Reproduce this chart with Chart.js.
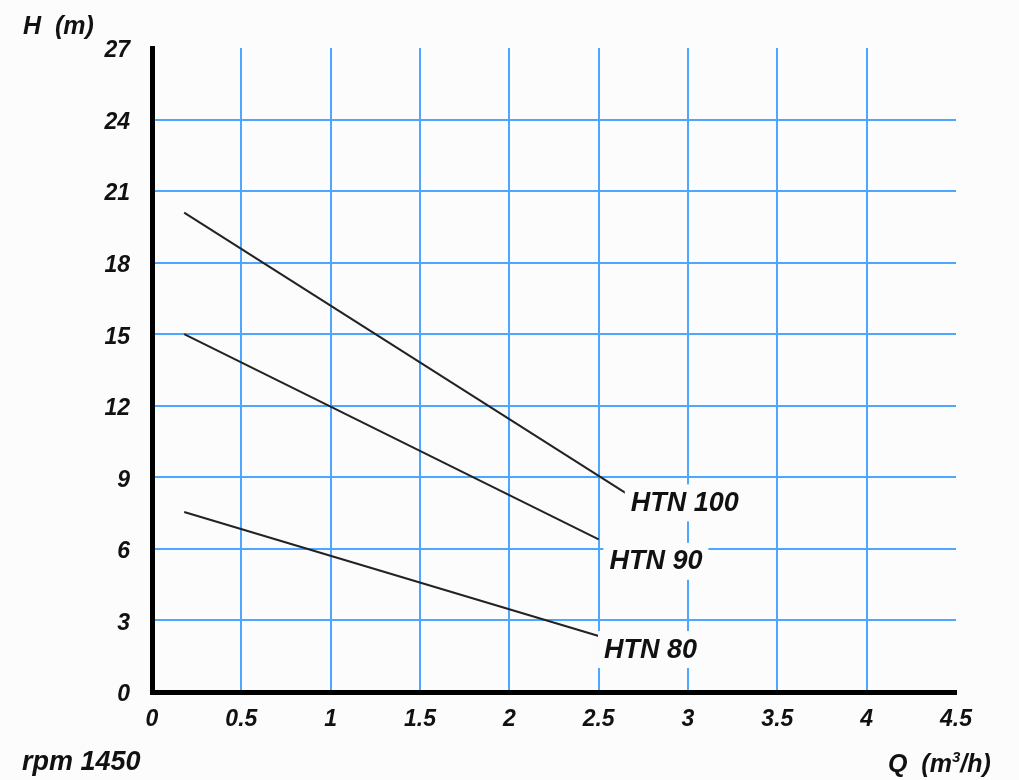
<!DOCTYPE html>
<html>
<head>
<meta charset="utf-8">
<script src="https://cdn.jsdelivr.net/npm/chart.js@4/dist/chart.umd.min.js"></script>
<style>
    html, body { margin: 0; padding: 0; background: #fcfcfc; }
    #wrap { position: relative; width: 1019px; height: 780px; }
    .lbl { position: absolute; font-family: "Liberation Sans", Arial, sans-serif; font-weight: bold; font-style: italic; color: #111; line-height: 1; white-space: nowrap; }
</style>
</head>
<body>
<div id="wrap">
    <canvas id="chart" width="1019" height="780"></canvas>
    <div class="lbl" style="left:23px; top:13px; font-size:25px;">H&nbsp;&nbsp;(m)</div>
    <div class="lbl" style="left:22px; top:748px; font-size:27px;">rpm 1450</div>
    <div class="lbl" style="left:888px; top:749px; font-size:25px;">Q&nbsp;&nbsp;(m<sup style="font-size:15px; vertical-align:10px;">3</sup>/h)</div>
</div>
<script>
// ─── Data ─────────────────────────────────────────────────────────────────────
const SERIES_NAMES = ["HTN 100", "HTN 90", "HTN 80"];
const Q_100 = [0.18, 2.65];
const H_100 = [20.1, 8.35];
const Q_90 = [0.18, 2.5];
const H_90 = [15.0, 6.4];
const Q_80 = [0.18, 2.5];
const H_80 = [7.55, 2.35];
// label anchors (left edge, vertical centre) in data units
const LABEL_Q = [2.68, 2.56, 2.53];
const LABEL_H = [7.95, 5.5, 1.8];

const X_TICKS = [0, 0.5, 1, 1.5, 2, 2.5, 3, 3.5, 4, 4.5];
const Y_TICKS = [0, 3, 6, 9, 12, 15, 18, 21, 24, 27];

const GRID_BLUE = "#4da6ff";
const FONT = "'Liberation Sans', Arial, sans-serif";
const TICK_FONT = { family: FONT, size: 23, weight: "bold", style: "italic" };

const pts = (xs, ys) => xs.map((x, i) => ({ x, y: ys[i] }));

// ─── Series labels with background boxes (they cut the grid) ─────────────────
const seriesLabels = {
    id: "seriesLabels",
    afterDatasetsDraw(chart) {
        const { ctx, scales } = chart;
        ctx.save();
        ctx.font = `italic bold 27px ${FONT}`;
        ctx.textBaseline = "middle";
        ctx.textAlign = "left";
        SERIES_NAMES.forEach((name, i) => {
            const px = scales.x.getPixelForValue(LABEL_Q[i]);
            const py = scales.y.getPixelForValue(LABEL_H[i]);
            const w = ctx.measureText(name).width;
            ctx.fillStyle = "#fcfcfc";
            ctx.fillRect(px - 6, py - 18, w + 12, 37);
            ctx.fillStyle = "#111";
            ctx.fillText(name, px, py + 1);
        });
        ctx.restore();
    },
};

const lineDs = (data) => ({
    data,
    showLine: true,
    borderColor: "#222",
    borderWidth: 2,
    pointRadius: 0,
    fill: false,
    tension: 0,
});

new Chart(document.getElementById("chart"), {
    type: "scatter",
    data: {
        datasets: [
            lineDs(pts(Q_100, H_100)),
            lineDs(pts(Q_90, H_90)),
            lineDs(pts(Q_80, H_80)),
        ],
    },
    options: {
        responsive: false,
        animation: false,
        layout: { padding: { top: 48, right: 63, bottom: 0, left: 0 } },
        plugins: { legend: { display: false }, tooltip: { enabled: false } },
        scales: {
            x: {
                type: "linear",
                min: 0,
                max: 4.5,
                afterBuildTicks: (s) => { s.ticks = X_TICKS.map((v) => ({ value: v })); },
                afterFit: (s) => { s.height = 88; },
                ticks: { color: "#111", padding: 14, font: TICK_FONT, callback: (v) => String(v) },
                grid: {
                    drawTicks: false,
                    lineWidth: 2,
                    color: (c) => (c.tick && (c.tick.value === 0 || c.tick.value === 4.5) ? "rgba(0,0,0,0)" : GRID_BLUE),
                },
                border: { color: "#000", width: 5 },
            },
            y: {
                type: "linear",
                min: 0,
                max: 27,
                afterBuildTicks: (s) => { s.ticks = Y_TICKS.map((v) => ({ value: v })); },
                afterFit: (s) => { s.width = 152; },
                ticks: { color: "#111", padding: 22, labelOffset: 3, font: TICK_FONT, callback: (v) => String(v) },
                grid: {
                    drawTicks: false,
                    lineWidth: 2,
                    color: (c) => (c.tick && (c.tick.value === 0 || c.tick.value === 27) ? "rgba(0,0,0,0)" : GRID_BLUE),
                },
                border: { color: "#000", width: 5 },
            },
        },
    },
    plugins: [seriesLabels],
});
</script>
</body>
</html>
